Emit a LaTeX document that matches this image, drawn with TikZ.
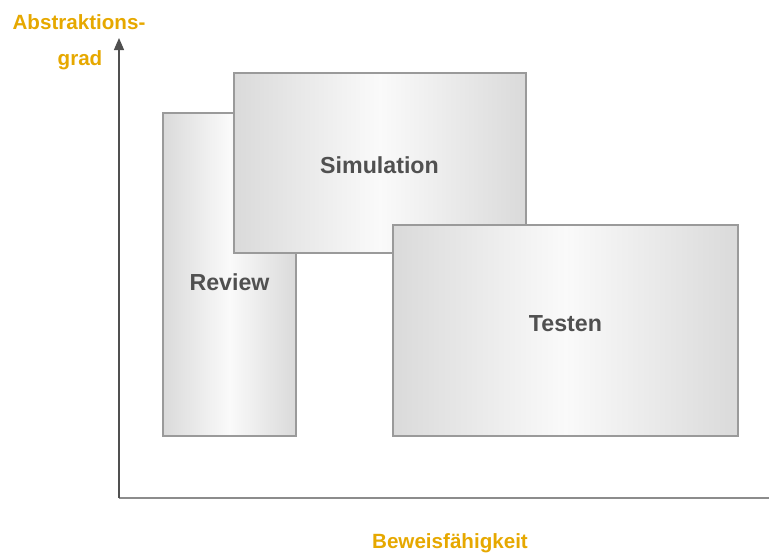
\documentclass[tikz,border=0pt]{standalone}
\usepackage{fontspec}
\setmainfont{Liberation Sans}
\usetikzlibrary{arrows.meta}
\definecolor{axisorange}{HTML}{E6A800}
\definecolor{labelgray}{HTML}{505050}
\definecolor{boxedge}{HTML}{9A9A9A}
\definecolor{boxshade}{HTML}{DADADA}
\tikzset{
  box/.style={draw=boxedge, line width=1.2pt, rectangle, inner sep=0pt,
    left color=boxshade, right color=boxshade, middle color=white!98!black},
  boxlabel/.style={font=\fontsize{23.2}{27}\selectfont\bfseries, text=labelgray},
  axislabel/.style={font=\fontsize{20.6}{24}\selectfont\bfseries, text=axisorange},
}
\begin{document}
\begin{tikzpicture}[x=1pt, y=-1pt]
  \useasboundingbox (0,0) rectangle (769,554);

  % axes
  \coordinate (O) at (119,498);
  \coordinate (ytip) at (119,38);
  \coordinate (xend) at (769,498);
  \draw[draw={rgb,255:red,140;green,140;blue,140}, line width=1.6pt] (O) -- (xend);
  \draw[draw=labelgray, line width=1.3pt, -{Triangle[width=10pt,length=12pt]}] (O) -- (ytip);

  % method boxes (drawn back to front)
  \node[box, minimum width=133pt, minimum height=323pt] (review) at (229.5,274.5) {};
  \node[box, minimum width=292pt, minimum height=180pt] (simulation) at (380,163) {};
  \node[box, minimum width=345pt, minimum height=211pt] (testen) at (565.5,330.5) {};

  \node[boxlabel] (reviewlbl) at (229.5,282) {Review};
  \node[boxlabel] (simulationlbl) at (379.5,165) {Simulation};
  \node[boxlabel] (testenlbl) at (565.5,324) {Testen};

  % axis captions
  \node[axislabel] (ylbl1) at (79,22) {Abstraktions-};
  \node[axislabel] (ylbl2) at (80,60) {grad};
  \node[axislabel] (xlbl) at (450,543) {Beweisfähigkeit};
\end{tikzpicture}
\end{document}
